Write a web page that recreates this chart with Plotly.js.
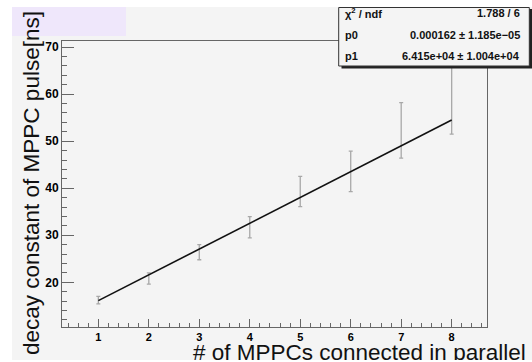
<!DOCTYPE html>
<html>
<head>
<meta charset="utf-8">
<script src="https://cdn.plot.ly/plotly-3.0.1.min.js"></script>
<style>
html,body{margin:0;padding:0;background:#ffffff;width:532px;height:362px;overflow:hidden;}
#chart{position:absolute;left:12px;top:7px;width:520px;height:353px;}
</style>
</head>
<body>
<div id="chart"></div>
<script>
// Data
const nMPPC = [1, 2, 3, 4, 5, 6, 7, 8];
const decayNs = [16.2, 20.8, 26.4, 31.7, 39.3, 43.6, 52.3, 64.0];
const decayErr = [0.8, 1.2, 1.6, 2.25, 3.2, 4.3, 5.9, 12.5];
const fitX = [1, 8];
const fitY = [16.1, 54.5];
const statLabels = ['χ<sup>2</sup> / ndf', 'p0', 'p1'];
const statValues = ['1.788 / 6', '0.000162 ± 1.185e−05', '6.415e+04 ± 1.004e+04'];
const xTitle = '# of MPPCs connected in parallel';
const yTitle = 'decay constant of MPPC pulse[ns]';

const W = 520, H = 353;
const M = {l: 50, r: 45, t: 34, b: 33};
const PW = W - M.l - M.r, PH = H - M.t - M.b;
// pixel (div coords) -> paper coords helpers
const px = x => (x - M.l) / PW;
const py = y => 1 - (y - M.t) / PH;

const traces = [
  {
    x: nMPPC, y: decayNs, type: 'scatter', mode: 'markers',
    marker: {size: 1, color: 'rgba(0,0,0,0)'},
    error_y: {type: 'data', array: decayErr, visible: true, color: '#a8a8a8', thickness: 1.3, width: 2},
    hoverinfo: 'skip', showlegend: false
  },
  {
    x: fitX, y: fitY, type: 'scatter', mode: 'lines',
    line: {color: '#111111', width: 1.6},
    hoverinfo: 'skip', showlegend: false
  }
];

const font = 'Liberation Sans, Arial, Helvetica, sans-serif';
const statFont = {family: font, size: 11, color: '#111111', weight: 'bold'};

const annotations = [
  {text: yTitle, xref: 'paper', yref: 'paper', x: px(19), y: py(176), xanchor: 'center', yanchor: 'middle',
   textangle: -90, showarrow: false, font: {family: font, size: 22.5, color: '#111111'}},
  {text: xTitle, xref: 'paper', yref: 'paper', x: px(516), y: py(345), xanchor: 'right', yanchor: 'middle',
   showarrow: false, font: {family: font, size: 22.5, color: '#111111'}}
];
const rowY = [6.5, 28, 49];
for (let i = 0; i < statLabels.length; i++) {
  annotations.push({text: statLabels[i], xref: 'paper', yref: 'paper', x: px(331), y: py(rowY[i]),
    xanchor: 'left', yanchor: 'middle', showarrow: false, font: statFont});
  annotations.push({text: statValues[i], xref: 'paper', yref: 'paper', x: px(510), y: py(rowY[i]),
    xanchor: 'right', yanchor: 'middle', showarrow: false, font: statFont});
}

const shapes = [
  {type: 'rect', xref: 'paper', yref: 'paper', x0: px(0), x1: px(114), y0: py(29), y1: py(0),
   fillcolor: '#efe7fb', line: {width: 0}, layer: 'below'},
  {type: 'rect', xref: 'paper', yref: 'paper', x0: px(329.5), x1: px(520), y0: py(61.5), y1: py(2),
   fillcolor: '#222222', line: {width: 0}, layer: 'above'},
  {type: 'rect', xref: 'paper', yref: 'paper', x0: px(326.7), x1: px(517.3), y0: py(59), y1: py(0.5),
   fillcolor: '#f4f4f4', line: {width: 1, color: '#333333'}, layer: 'above'}
];

const layout = {
  width: W, height: H,
  margin: M,
  paper_bgcolor: '#f4f4f4', plot_bgcolor: '#f4f4f4',
  showlegend: false,
  xaxis: {
    range: [0.28, 8.7], tickmode: 'linear', tick0: 1, dtick: 1,
    ticks: 'inside', ticklen: 8, tickcolor: '#666666', tickwidth: 1,
    minor: {dtick: 0.2, tick0: 0, ticks: 'inside', ticklen: 4, tickcolor: '#666666', tickwidth: 1, showgrid: false},
    showline: true, linecolor: '#666666', linewidth: 1, mirror: true,
    showgrid: false, zeroline: false,
    tickfont: {family: font, size: 11, color: '#000000', weight: 'bold'}
  },
  yaxis: {
    range: [10.5, 71.3], tickmode: 'linear', tick0: 0, dtick: 10,
    ticks: 'inside', ticklen: 12, tickcolor: '#666666', tickwidth: 1,
    minor: {dtick: 2, tick0: 0, ticks: 'inside', ticklen: 5, tickcolor: '#666666', tickwidth: 1, showgrid: false},
    showline: true, linecolor: '#666666', linewidth: 1, mirror: true,
    showgrid: false, zeroline: false,
    tickfont: {family: font, size: 12, color: '#000000', weight: 'bold'}
  },
  annotations: annotations,
  shapes: shapes
};

Plotly.newPlot('chart', traces, layout, {displayModeBar: false, staticPlot: true});
</script>
</body>
</html>
